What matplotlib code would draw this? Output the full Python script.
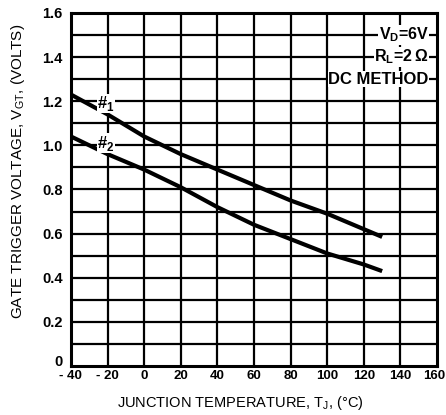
import matplotlib
matplotlib.use("Agg")
import matplotlib.pyplot as plt
import matplotlib.transforms as mtransforms
import numpy as np

plt.rcParams['font.family'] = ['Liberation Sans', 'DejaVu Sans']

temps = [-40, -20, 0, 20, 40, 60, 80, 100, 120, 130]
vgt_1 = [1.23, 1.14, 1.04, 0.96, 0.89, 0.82, 0.75, 0.69, 0.62, 0.585]
vgt_2 = [1.04, 0.96, 0.89, 0.81, 0.72, 0.64, 0.575, 0.51, 0.46, 0.43]

x_ticks = [-40, -20, 0, 20, 40, 60, 80, 100, 120, 140, 160]
x_tick_labels = ["- 40", "- 20", "0", "20", "40", "60", "80", "100", "120", "140", "160"]
y_ticks = [0, 0.2, 0.4, 0.6, 0.8, 1.0, 1.2, 1.4, 1.6]
y_tick_labels = ["0", "0.2", "0.4", "0.6", "0.8", "1.0", "1.2", "1.4", "1.6"]

fig = plt.figure(figsize=(4.46, 4.15), dpi=100)
ax = fig.add_axes([0.159, 0.118, 0.821, 0.851])
ax.set_xlim(-40, 160)
ax.set_ylim(0, 1.6)

# grid
for xv in np.arange(-20, 160, 20):
    ax.axvline(xv, color='black', lw=1.6, zorder=1)
for yv in np.arange(0.1, 1.6, 0.1):
    ax.axhline(yv, color='black', lw=1.6, zorder=1)

ax.plot(temps, vgt_1, color='black', lw=3.0, zorder=3, solid_capstyle='butt')
ax.plot(temps, vgt_2, color='black', lw=3.0, zorder=3, solid_capstyle='butt')

bbox = dict(facecolor='white', edgecolor='none', pad=0.3)
ax.text(-21, 1.19, "#$_\\mathregular{1}$", fontsize=12, fontweight='bold', ha='center', va='center', bbox=bbox, zorder=4)
ax.text(-21, 1.01, "#$_\\mathregular{2}$", fontsize=12, fontweight='bold', ha='center', va='center', bbox=bbox, zorder=4)

ax.text(155.5, 1.5, "V$_\\mathregular{D}$=6V", fontsize=11.5, fontweight='bold', ha='right', va='center', bbox=bbox, zorder=4)
ax.text(155.5, 1.4, "R$_\\mathregular{L}$=2\u2009\u03a9", fontsize=11.5, fontweight='bold', ha='right', va='center', bbox=bbox, zorder=4)
ax.text(155.5, 1.3, "DC METHOD", fontsize=12, fontweight='bold', ha='right', va='center', bbox=bbox, zorder=4)

ax.set_xticks(x_ticks)
ax.set_xticklabels(x_tick_labels, fontsize=9.5, fontweight='bold')
ax.set_yticks(y_ticks)
ax.set_yticklabels(y_tick_labels, fontsize=10.5, fontweight='bold')
ax.tick_params(axis='y', length=0, pad=6)
ax.tick_params(axis='x', length=0, pad=3)

ylabs = ax.get_yticklabels()
ylabs[0].set_transform(ylabs[0].get_transform() + mtransforms.ScaledTranslation(0, 6/100, fig.dpi_scale_trans))
xlabs = ax.get_xticklabels()
xlabs[-1].set_transform(xlabs[-1].get_transform() + mtransforms.ScaledTranslation(-3/100, 0, fig.dpi_scale_trans))

for s in ax.spines.values():
    s.set_linewidth(2.2)

ax.set_xlabel("JUNCTION TEMPERATURE, T$_\\mathregular{J}$, (°C)", fontsize=10.5, va='center')
ax.set_ylabel("GATE TRIGGER VOLTAGE, V$_\\mathregular{GT}$, (VOLTS)", fontsize=11, va='center')
ax.xaxis.set_label_coords(0.464, -0.105)
ax.yaxis.set_label_coords(-0.145, 0.552)

fig.savefig("out.png", dpi=100)
